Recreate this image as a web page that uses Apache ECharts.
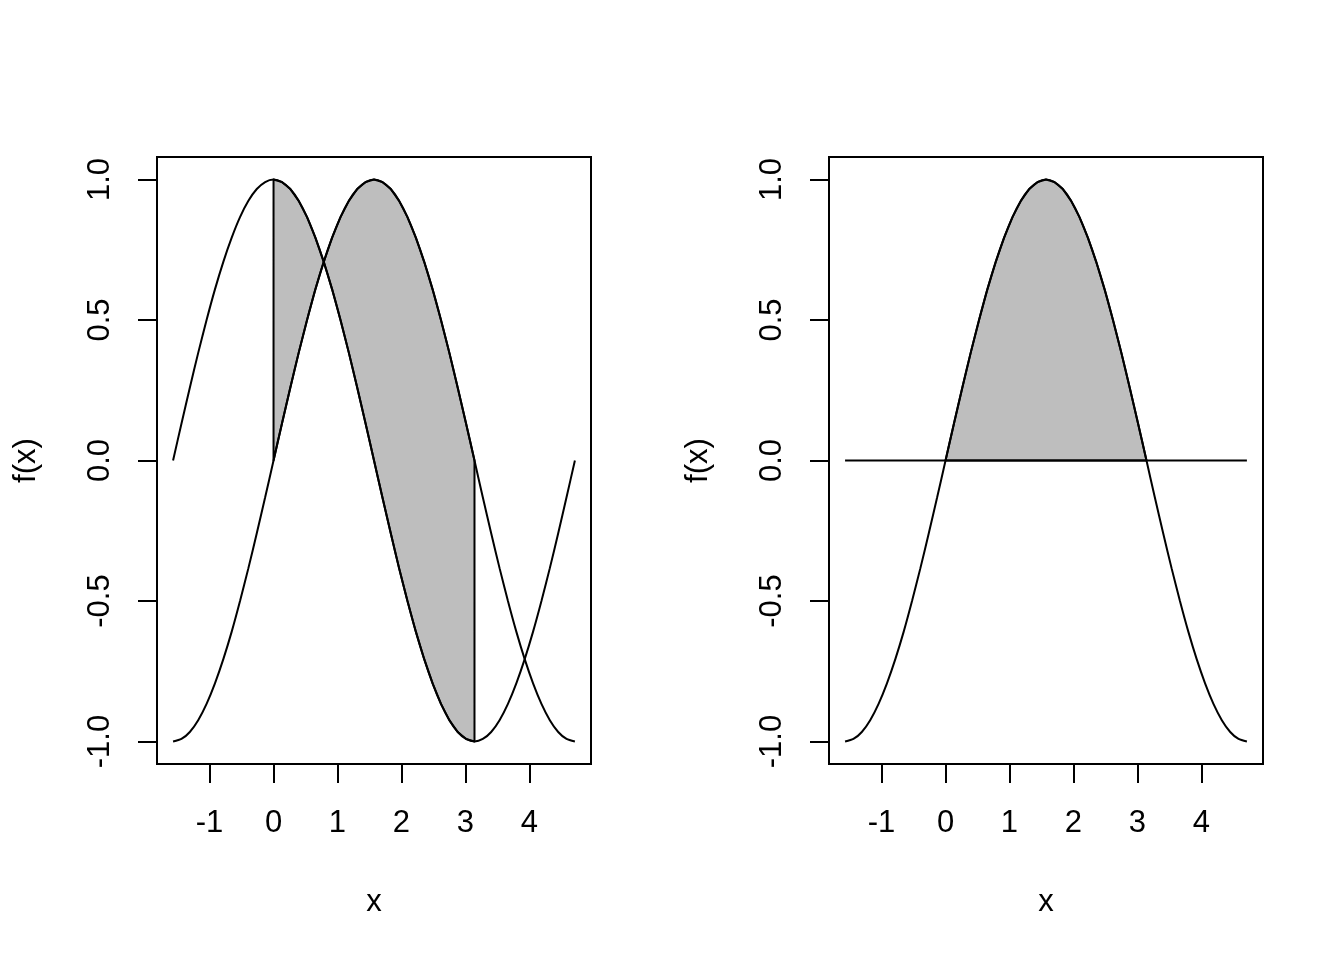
<!DOCTYPE html>
<html>
<head>
<meta charset="utf-8">
<script src="https://cdn.jsdelivr.net/npm/echarts@6/dist/echarts.min.js"></script>
<style>html,body{margin:0;padding:0;background:#fff}#c{width:1344px;height:960px}</style>
</head>
<body>
<div id="c"></div>
<script>
// sampled x positions (from -pi/2 to 3pi/2)
const xs = [-1.571,-1.440,-1.309,-1.178,-1.047,-0.916,-0.785,-0.654,-0.524,-0.393,-0.262,-0.131,0,
  0.131,0.262,0.393,0.524,0.654,0.785,0.916,1.047,1.178,1.309,1.440,1.571,1.702,1.833,1.963,2.094,
  2.225,2.356,2.487,2.618,2.749,2.880,3.011,3.142,3.272,3.403,3.534,3.665,3.796,3.927,4.058,4.189,
  4.320,4.451,4.581,4.712];
// sin curve values
const sinY = [-1,-0.991,-0.966,-0.924,-0.866,-0.793,-0.707,-0.609,-0.5,-0.383,-0.259,-0.131,0,
  0.131,0.259,0.383,0.5,0.609,0.707,0.793,0.866,0.924,0.966,0.991,1,0.991,0.966,0.924,0.866,
  0.793,0.707,0.609,0.5,0.383,0.259,0.131,0,-0.131,-0.259,-0.383,-0.5,-0.609,-0.707,-0.793,-0.866,
  -0.924,-0.966,-0.991,-1];
// cos curve values
const cosY = [0,0.131,0.259,0.383,0.5,0.609,0.707,0.793,0.866,0.924,0.966,0.991,1,
  0.991,0.966,0.924,0.866,0.793,0.707,0.609,0.5,0.383,0.259,0.131,0,-0.131,-0.259,-0.383,-0.5,
  -0.609,-0.707,-0.793,-0.866,-0.924,-0.966,-0.991,-1,-0.991,-0.966,-0.924,-0.866,-0.793,-0.707,
  -0.609,-0.5,-0.383,-0.259,-0.131,0];
const shadeFrom = 12, shadeTo = 36; // x = 0 .. pi
const xTicks = [-1,0,1,2,3,4];
const yTicks = [-1,-0.5,0,0.5,1];
const xTitle = 'x', yTitle = 'f(x)';

const FONT = 'Liberation Sans, Arial, Helvetica, sans-serif';
const FS = 31;
const xMin = -1.8221, xMax = 4.9637, yMin = -1.08, yMax = 1.08;

function pairs(a, b) { return a.map((v, i) => [v, b[i]]); }

// polygon for left: sin from 0..pi then cos back
const polyL = [];
for (let i = shadeFrom; i <= shadeTo; i++) polyL.push([xs[i], sinY[i]]);
for (let i = shadeTo; i >= shadeFrom; i--) polyL.push([xs[i], cosY[i]]);
// polygon for right: sin from 0..pi then zero line back
const polyR = [];
for (let i = shadeFrom; i <= shadeTo; i++) polyR.push([xs[i], sinY[i]]);
polyR.push([xs[shadeTo], 0]); polyR.push([xs[shadeFrom], 0]);

function polySeries(poly, idx) {
  return {
    type: 'custom', xAxisIndex: idx, yAxisIndex: idx, silent: true, z: 1,
    data: [[0, 0]],
    renderItem: function (params, api) {
      return {
        type: 'polygon',
        shape: { points: poly.map(p => api.coord(p)) },
        style: { fill: '#bebebe', stroke: '#000', lineWidth: 2, lineJoin: 'round' }
      };
    }
  };
}
function lineSeries(data, idx) {
  return {
    type: 'line', xAxisIndex: idx, yAxisIndex: idx, data: data, showSymbol: false,
    smooth: 0.25, silent: true, z: 3, lineStyle: { color: '#000', width: 2 }, animation: false
  };
}
function xAxis(idx) {
  return {
    type: 'value', gridIndex: idx, min: xMin, max: xMax, position: 'bottom',
    axisLine: { show: false, onZero: false }, splitLine: { show: false },
    axisTick: { show: true, customValues: xTicks, length: 19, lineStyle: { color: '#000', width: 2 } },
    axisLabel: { customValues: xTicks, color: '#000', fontSize: FS, fontFamily: FONT, margin: 44 },
    name: xTitle, nameLocation: 'middle', nameGap: 123,
    nameTextStyle: { color: '#000', fontSize: FS, fontFamily: FONT }
  };
}
function yAxis(idx) {
  return {
    type: 'value', gridIndex: idx, min: yMin, max: yMax, position: 'left',
    axisLine: { show: false, onZero: false }, splitLine: { show: false },
    axisTick: { show: true, customValues: yTicks, length: 19, lineStyle: { color: '#000', width: 2 } },
    axisLabel: { customValues: yTicks, rotate: 90, color: '#000', fontSize: FS, fontFamily: FONT, margin: 41,
      formatter: v => v.toFixed(1) },
    name: yTitle, nameLocation: 'middle', nameGap: 115, nameRotate: 90,
    nameTextStyle: { color: '#000', fontSize: FS, fontFamily: FONT }
  };
}

const chart = echarts.init(document.getElementById('c'), null, { renderer: 'canvas' });
chart.setOption({
  animation: false,
  backgroundColor: '#fff',
  grid: [
    { left: 157, top: 157, width: 434, height: 607, show: true, borderColor: '#000', borderWidth: 2, backgroundColor: 'transparent' },
    { left: 829, top: 157, width: 434, height: 607, show: true, borderColor: '#000', borderWidth: 2, backgroundColor: 'transparent' }
  ],
  xAxis: [xAxis(0), xAxis(1)],
  yAxis: [yAxis(0), yAxis(1)],
  series: [
    lineSeries(pairs(xs, sinY), 0),
    lineSeries(pairs(xs, cosY), 0),
    polySeries(polyL, 0),
    lineSeries(pairs(xs, sinY), 1),
    lineSeries([[xs[0], 0], [xs[xs.length - 1], 0]], 1),
    polySeries(polyR, 1)
  ]
});
</script>
</body>
</html>
